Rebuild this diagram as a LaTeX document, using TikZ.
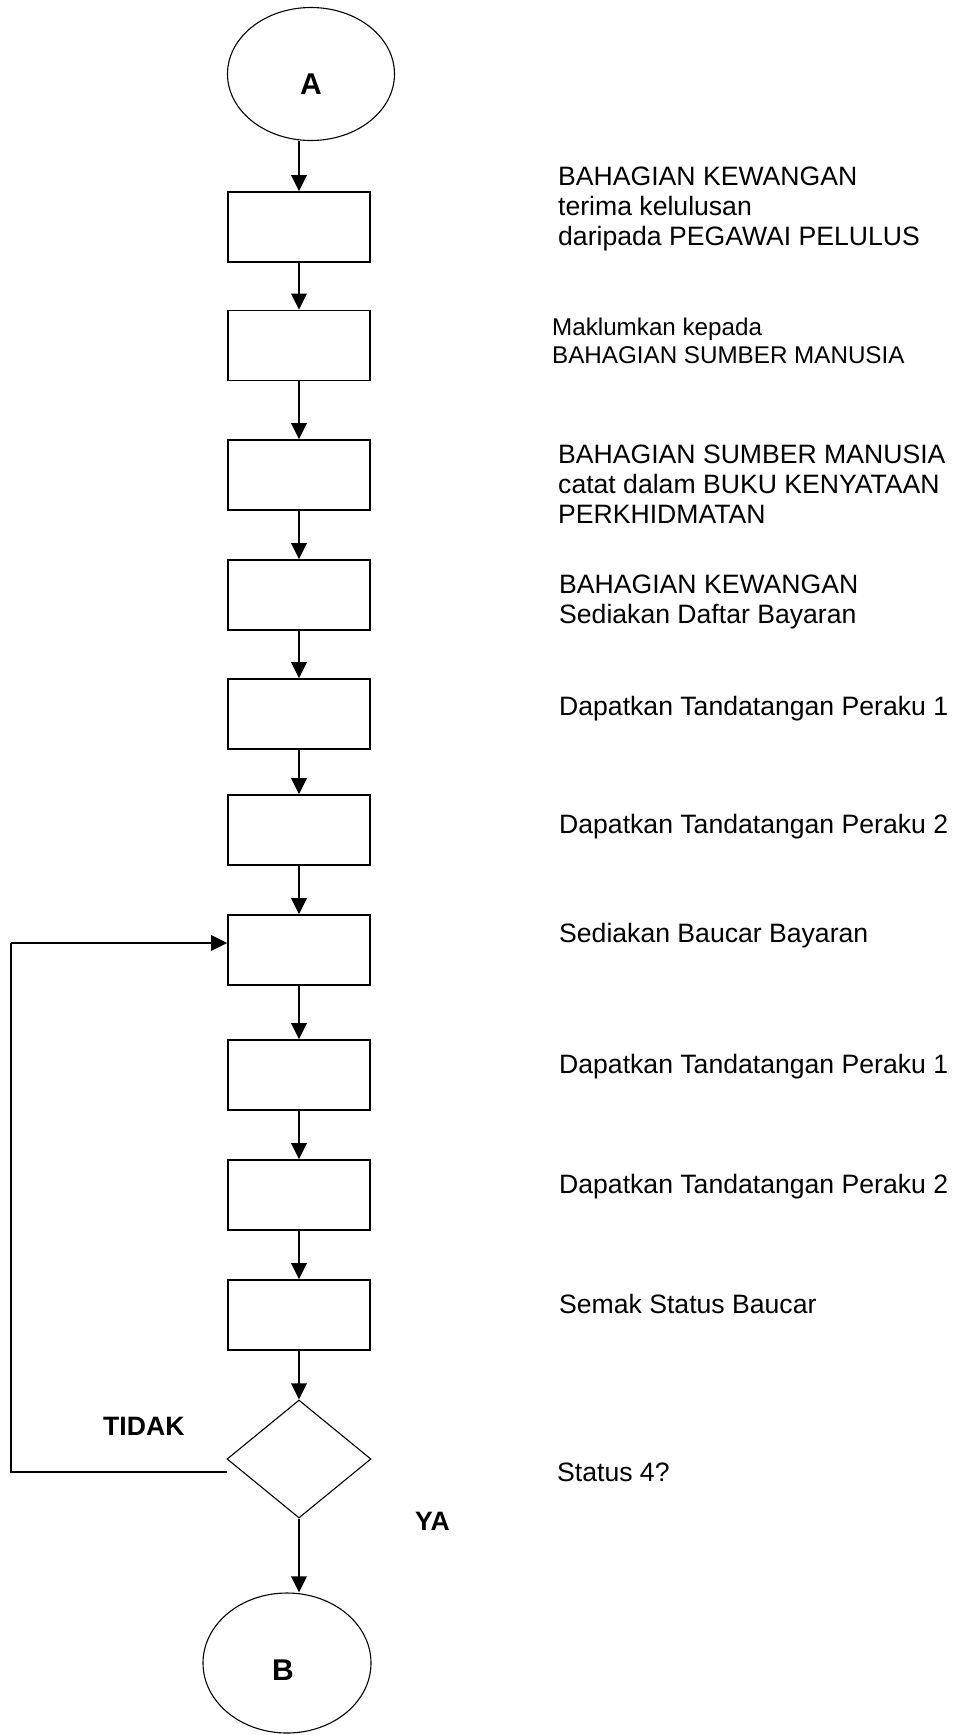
\documentclass[tikz,border=0pt]{standalone}
\usepackage{fontspec}
\setmainfont{Liberation Sans}
\usetikzlibrary{arrows.meta,shapes.geometric}
\begin{document}
\begin{tikzpicture}[x=1pt,y=-1pt,
  stepbox/.style={draw,line width=1.8pt,minimum width=142pt,minimum height=70pt,inner sep=0pt},
  termnode/.style={draw,ellipse,line width=1.1pt,inner sep=0pt},
  decide/.style={draw,diamond,line width=1.1pt,minimum width=144pt,minimum height=118pt,inner sep=0pt},
  arr/.style={line width=1.7pt,-{Triangle[width=15.5pt,length=16pt]}},
  desc/.style={anchor=base west,inner sep=0pt,font=\fontsize{26.6}{30}\selectfont},
  descsmall/.style={anchor=base west,inner sep=0pt,font=\fontsize{24.2}{28}\selectfont},
  boldlbl/.style={anchor=base west,inner sep=0pt,font=\fontsize{26.6}{30}\selectfont\bfseries},
  letter/.style={anchor=base,inner sep=0pt,font=\fontsize{30}{34}\selectfont\bfseries}]
\useasboundingbox (0,0) rectangle (964,1735);

% terminals
\node[termnode,minimum width=167pt,minimum height=133pt] (A) at (311,74) {};
\node[letter] (Atxt) at (311,94) {A};
\node[termnode,minimum width=168pt,minimum height=140pt] (B) at (287,1663) {};
\node[letter] (Btxt) at (283,1680) {B};

% boxes
\node[stepbox] (b1) at (299,227) {};
\node[stepbox] (b2) at (299,345.5) {};
\node[stepbox] (b3) at (299,475) {};
\node[stepbox] (b4) at (299,595) {};
\node[stepbox] (b5) at (299,714) {};
\node[stepbox] (b6) at (299,830) {};
\node[stepbox] (b7) at (299,950) {};
\node[stepbox] (b8) at (299,1075) {};
\node[stepbox] (b9) at (299,1195) {};
\node[stepbox] (b10) at (299,1315) {};
\node[decide] (d) at (299,1459) {};

% arrows
\draw[arr] (b1.north |- A.south) -- (b1.north);
\draw[arr] (b1) -- (b2);
\draw[arr] (b2) -- (b3);
\draw[arr] (b3) -- (b4);
\draw[arr] (b4) -- (b5);
\draw[arr] (b5) -- (b6);
\draw[arr] (b6) -- (b7);
\draw[arr] (b7) -- (b8);
\draw[arr] (b8) -- (b9);
\draw[arr] (b9) -- (b10);
\draw[arr] (b10) -- (d);
\draw[arr] (d.south) -- (d.south |- B.north);

% feedback loop
\coordinate (fb1) at (227,1472);
\coordinate (fb2) at (11,1472);
\coordinate (fb3) at (11,943);
\draw[line width=1.5pt] (fb1) -- (fb2) -- (fb3);
\draw[arr] (fb3) -- (b7.west |- fb3);

% labels
\node[boldlbl] (tidak) at (103,1435) {TIDAK};
\node[boldlbl] (ya) at (415,1530) {YA};

% descriptions
\node[desc] (t1a) at (558,185) {BAHAGIAN KEWANGAN};
\node[desc] (t1b) at (558,215) {terima kelulusan};
\node[desc] (t1c) at (558,245) {daripada PEGAWAI PELULUS};
\node[descsmall] (t2a) at (552,335) {Maklumkan kepada};
\node[descsmall] (t2b) at (552,363) {BAHAGIAN SUMBER MANUSIA};
\node[desc] (t3a) at (558,463) {BAHAGIAN SUMBER MANUSIA};
\node[desc] (t3b) at (558,493) {catat dalam BUKU KENYATAAN};
\node[desc] (t3c) at (558,523) {PERKHIDMATAN};
\node[desc] (t4a) at (559,593) {BAHAGIAN KEWANGAN};
\node[desc] (t4b) at (559,623) {Sediakan Daftar Bayaran};
\node[desc] (t5) at (559,715) {Dapatkan Tandatangan Peraku 1};
\node[desc] (t6) at (559,833) {Dapatkan Tandatangan Peraku 2};
\node[desc] (t7) at (559,942) {Sediakan Baucar Bayaran};
\node[desc] (t8) at (559,1073) {Dapatkan Tandatangan Peraku 1};
\node[desc] (t9) at (559,1193) {Dapatkan Tandatangan Peraku 2};
\node[desc] (t10) at (559,1313) {Semak Status Baucar};
\node[desc] (t11) at (557,1481) {Status 4?};
\end{tikzpicture}
\end{document}
